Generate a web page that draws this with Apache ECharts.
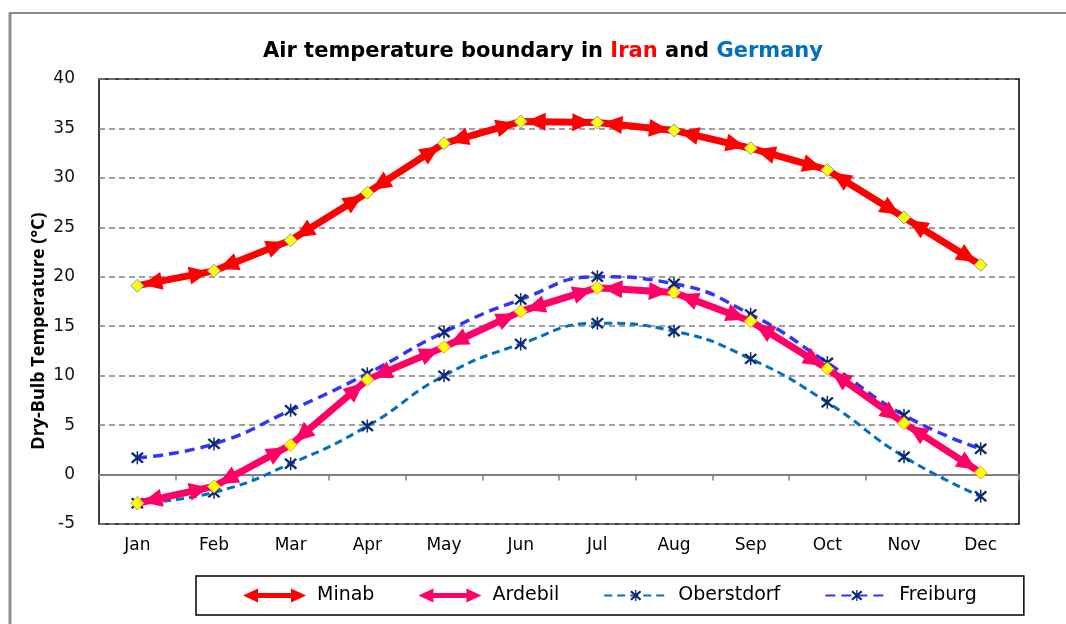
<!DOCTYPE html>
<html>
<head>
<meta charset="utf-8">
<script src="https://cdn.jsdelivr.net/npm/echarts@6/dist/echarts.min.js"></script>
<style>
html,body{margin:0;padding:0;background:#fff;}
#chart{width:1066px;height:624px;}
</style>
</head>
<body>
<div id="chart"></div>
<script>
var months = ['Jan','Feb','Mar','Apr','May','Jun','Jul','Aug','Sep','Oct','Nov','Dec'];
var minab = [19.1, 20.6, 23.7, 28.5, 33.5, 35.7, 35.6, 34.8, 33.0, 30.8, 26.0, 21.2];
var ardebil = [-2.9, -1.2, 3.0, 9.6, 12.9, 16.5, 18.9, 18.4, 15.5, 10.7, 5.2, 0.2];
var oberstdorf = [-2.9, -1.8, 1.1, 4.9, 10.0, 13.2, 15.3, 14.5, 11.7, 7.3, 1.8, -2.2];
var freiburg = [1.7, 3.1, 6.5, 10.2, 14.4, 17.7, 20.0, 19.3, 16.2, 11.3, 6.0, 2.6];
var yTicks = {min: -5, max: 40, interval: 5};

var starPath = 'path://M9,0H11V20H9Z M1.2,3.6L3.6,1.2L18.8,16.4L16.4,18.8Z M16.4,1.2L18.8,3.6L3.6,18.8L1.2,16.4Z';
var dblArrowPath = 'path://M0,7 L15,0 L15,4.5 L48,4.5 L48,0 L63,7 L48,14 L48,9.5 L15,9.5 L15,14 Z';

function segments(vals){
  var out = [];
  for (var i = 0; i < vals.length - 1; i++) out.push([i, vals[i], vals[i+1]]);
  return out;
}
function arrowRender(color){
  return function(params, api){
    var i = api.value(0);
    var p0 = api.coord([i, api.value(1)]);
    var p1 = api.coord([i + 1, api.value(2)]);
    var dx = p1[0]-p0[0], dy = p1[1]-p0[1];
    var len = Math.sqrt(dx*dx+dy*dy);
    var ux = dx/len, uy = dy/len, nx = -uy, ny = ux;
    var gap = 5, L = 20, W = 9;
    function head(p, dir){
      var tx = p[0] + dir*ux*gap, ty = p[1] + dir*uy*gap;
      var bx = tx + dir*ux*L, by = ty + dir*uy*L;
      return {type:'polygon', shape:{points:[[tx,ty],[bx+nx*W,by+ny*W],[bx-nx*W,by-ny*W]]}, style:{fill:color}};
    }
    return {type:'group', children:[head(p0, 1), head(p1, -1)]};
  };
}

var chart = echarts.init(document.getElementById('chart'));
chart.setOption({
  animation: false,
  backgroundColor: '#fff',
  title: {
    left: 258, top: 36,
    text: '{a|Air temperature boundary in }{r|Iran}{a| and }{b|Germany}',
    textStyle: {
      rich: {
        a: {fontFamily: 'DejaVu Sans', fontWeight: 'bold', fontSize: 21, color: '#000'},
        r: {fontFamily: 'DejaVu Sans', fontWeight: 'bold', fontSize: 21, color: '#FF0000'},
        b: {fontFamily: 'DejaVu Sans', fontWeight: 'bold', fontSize: 21, color: '#0070C0'}
      }
    }
  },
  graphic: [
    {type: 'line', shape: {x1: 10, y1: 13, x2: 10, y2: 624}, style: {stroke: '#8c8c8c', lineWidth: 3}},
    {type: 'line', shape: {x1: 9, y1: 13, x2: 1066, y2: 13}, style: {stroke: '#8c8c8c', lineWidth: 2}},
    {type: 'text', x: 39, y: 331, rotation: Math.PI/2,
      style: {text: 'Dry-Bulb Temperature (°C)', font: 'bold 18px "Open Sans"', fill: '#000', textAlign: 'center', textVerticalAlign: 'middle'}}
  ],
  grid: {left: 99, right: 47, top: 79, bottom: 100, show: true, borderColor: '#000', borderWidth: 1.5},
  legend: {
    left: 196, top: 576,
    data: [
      {name: 'Minab', icon: dblArrowPath, itemStyle: {color: '#FF0000', borderWidth: 0}},
      {name: 'Ardebil', icon: dblArrowPath, itemStyle: {color: '#FF0066', borderWidth: 0}},
      'Oberstdorf', 'Freiburg'
    ],
    itemWidth: 63, itemHeight: 14, itemGap: 44,
    padding: [10, 47],
    borderColor: '#000', borderWidth: 1.5,
    textStyle: {fontFamily: 'DejaVu Sans', fontSize: 19, color: '#000', padding: [0, 0, 0, 6]}
  },
  xAxis: [
    {type: 'category', data: months, boundaryGap: true,
      axisLine: {onZero: true, lineStyle: {color: '#808080', width: 2}},
      axisTick: {show: true, length: 6, lineStyle: {color: '#808080', width: 1.5}},
      axisLabel: {show: false}, splitLine: {show: false}},
    {type: 'category', data: months, boundaryGap: true, position: 'bottom',
      axisLine: {show: false}, axisTick: {show: false},
      axisLabel: {margin: 13, fontFamily: 'DejaVu Sans', fontSize: 17, color: '#000'}}
  ],
  yAxis: {
    type: 'value', min: yTicks.min, max: yTicks.max, interval: yTicks.interval,
    axisLine: {show: false}, axisTick: {show: false},
    axisLabel: {margin: 24, fontFamily: 'DejaVu Sans', fontSize: 17, color: '#111'},
    splitLine: {show: true, lineStyle: {color: '#808080', width: 1.5, type: [6, 4]}}
  },
  series: [
    {name: 'Oberstdorf', type: 'line', data: oberstdorf, smooth: true, z: 2,
      lineStyle: {color: '#0070C0', width: 3, type: [8, 5]},
      symbol: starPath, symbolSize: 13, itemStyle: {color: '#0C2A6E'}},
    {name: 'Freiburg', type: 'line', data: freiburg, smooth: true, z: 2,
      lineStyle: {color: '#3333FF', width: 3.5, type: [10, 6]},
      symbol: starPath, symbolSize: 13, itemStyle: {color: '#0C2A6E'}},
    {name: 'ArdebilArrows', type: 'custom', data: segments(ardebil), renderItem: arrowRender('#FF0066'),
      encode: {x: 0, y: 1}, z: 3, silent: true},
    {name: 'Ardebil', type: 'line', data: ardebil, smooth: false, z: 4,
      lineStyle: {color: '#FF0066', width: 7},
      symbol: 'diamond', symbolSize: 13, itemStyle: {color: '#FFFF00', borderColor: '#F79646', borderWidth: 1}},
    {name: 'MinabArrows', type: 'custom', data: segments(minab), renderItem: arrowRender('#FF0000'),
      encode: {x: 0, y: 1}, z: 3, silent: true},
    {name: 'Minab', type: 'line', data: minab, smooth: false, z: 4,
      lineStyle: {color: '#FF0000', width: 7},
      symbol: 'diamond', symbolSize: 13, itemStyle: {color: '#FFFF00', borderColor: '#7F9DB9', borderWidth: 1}}
  ]
});
</script>
</body>
</html>
